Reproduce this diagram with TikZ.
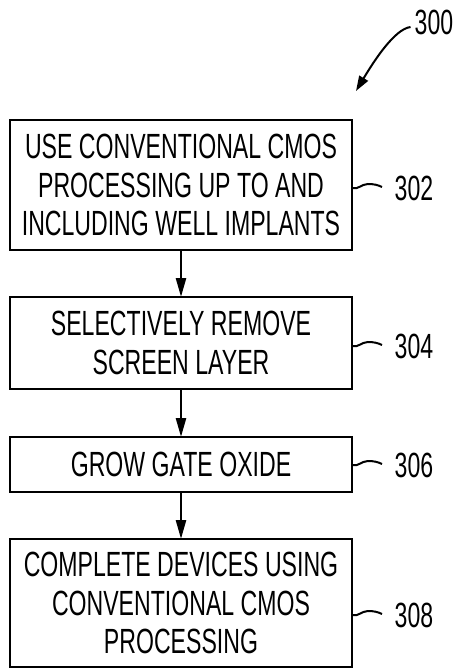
\documentclass[tikz,border=0pt]{standalone}
\usepackage{fontspec}
\setmainfont[FakeStretch=0.66]{Liberation Sans}
\usepackage{tikz}
\usetikzlibrary{arrows.meta, positioning}

\begin{document}
\begin{tikzpicture}[
    x=1pt, y=-1pt,
    % Styles
    stepbox/.style={rectangle, draw, line width=2pt, minimum width=342pt, inner sep=0pt, outer sep=0pt, align=center, font=\fontsize{35}{38.5}\selectfont},
    num/.style={inner sep=0pt, font=\fontsize{35}{38.5}\selectfont},
    arrow/.style={-{Triangle[length=19pt, width=10pt]}, line width=2.5pt},
    lead/.style={line width=2pt},
    leader/.style={-{Triangle[length=15pt, width=10pt]}, line width=2pt},
]
\useasboundingbox (0,0) rectangle (456,669);

% === Process steps ===
\node[stepbox, minimum height=130pt] (use) at (181,185) {USE CONVENTIONAL CMOS\\PROCESSING UP TO AND\\INCLUDING WELL IMPLANTS};
\node[stepbox, minimum height=92pt] (remove) at (181,343) {SELECTIVELY REMOVE\\SCREEN LAYER};
\node[stepbox, minimum height=55pt] (grow) at (181,464.5) {GROW GATE OXIDE};
\node[stepbox, minimum height=128pt] (complete) at (181,603) {COMPLETE DEVICES USING\\CONVENTIONAL CMOS\\PROCESSING};

% Step arrows
\draw[arrow] (use) -- (remove);
\draw[arrow] (remove) -- (grow);
\draw[arrow] (grow) -- (complete);

% === Reference numerals ===
\node[num] (n300) at (434,22) {300};
\node[num] (n302) at (414,188) {302};
\node[num] (n304) at (414,346) {304};
\node[num] (n306) at (414,465) {306};
\node[num] (n308) at (414,615) {308};

% Lead lines
\draw[lead] (use.east |- n302) -- ++(1,0) .. controls +(4,2) and +(-6,0) .. ++(15,-4) .. controls +(6,0) and +(-4,-2) .. ++(14,3);
\draw[lead] (remove.east |- n304) -- ++(1,0) .. controls +(4,2) and +(-6,0) .. ++(15,-4) .. controls +(6,0) and +(-4,-2) .. ++(14,3);
\draw[lead] (grow.east |- n306) -- ++(1,0) .. controls +(4,2) and +(-6,0) .. ++(15,-4) .. controls +(6,0) and +(-4,-2) .. ++(14,3);
\draw[lead] (complete.east |- n308) -- ++(1,0) .. controls +(4,2) and +(-6,0) .. ++(15,-4) .. controls +(6,0) and +(-4,-2) .. ++(14,3);

% Figure pointer
\coordinate (flow) at (356,91);
\draw[leader] (n300.west) ++(-4,5) .. controls +(-16,2) and +(18,-30) .. (flow);

\end{tikzpicture}
\end{document}
